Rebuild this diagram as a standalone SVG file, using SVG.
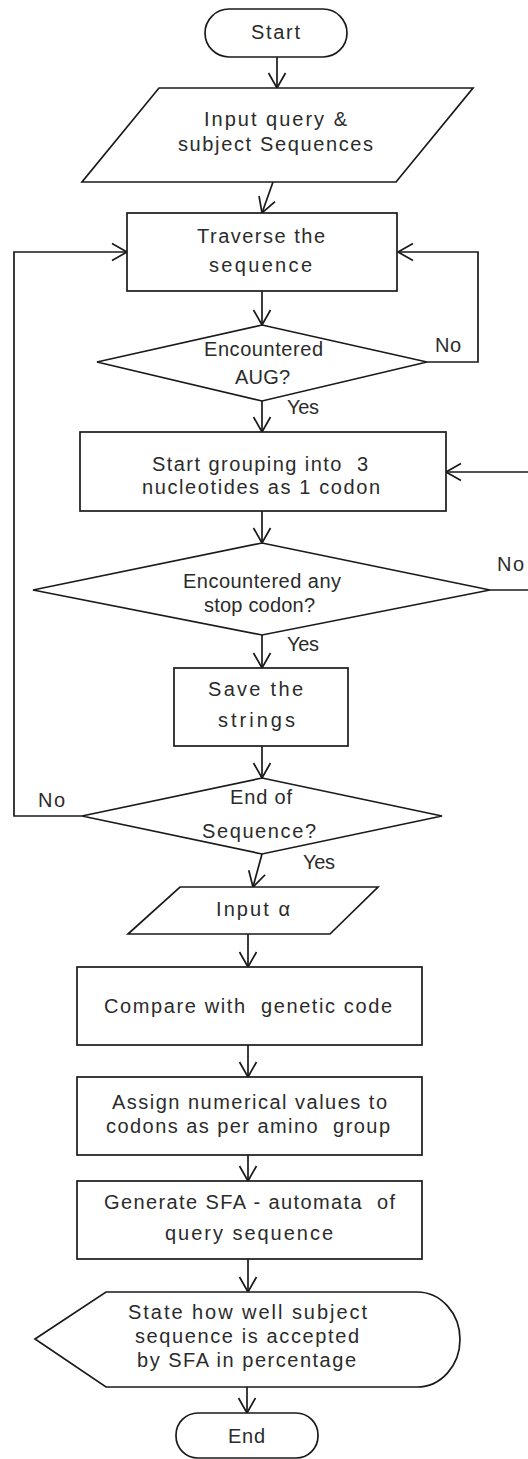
<svg xmlns="http://www.w3.org/2000/svg" width="528" height="1459" viewBox="0 0 528 1459">
<style>
.s{fill:#fff;stroke:#1a1a1a;stroke-width:1.7}
.c{fill:none;stroke:#1a1a1a;stroke-width:1.7}
text{font-family:"Liberation Sans","DejaVu Sans",sans-serif;font-size:20px;fill:#2b2b2b;white-space:pre}
</style>
<defs>
<marker id="ah" markerUnits="userSpaceOnUse" markerWidth="20" markerHeight="20" viewBox="-16 -10 18 20" refX="0" refY="0" orient="auto">
<path d="M-15,-8.5 L0,0 L-15,8.5" fill="none" stroke="#1a1a1a" stroke-width="1.7"/>
</marker>
</defs>
<rect width="528" height="1459" fill="#fff"/>
<g id="connectors" class="c" marker-end="url(#ah)">
<path d="M277,57 L277,88"/>
<path d="M273,182 L262,213"/>
<path d="M262,291 L262,325"/>
<path d="M427,362 L478,362 L478,252 L398,252"/>
<path d="M262,401 L262,432"/>
<path d="M528,472 L446,472"/>
<path d="M262,511 L262,543"/>
<path d="M490,590 L528,590" marker-end="none"/>
<path d="M262,635 L262,668"/>
<path d="M262,746 L262,778"/>
<path d="M82,816 L14,816 L14,252 L127,252"/>
<path d="M262,854 L253,887"/>
<path d="M248,934 L248,967"/>
<path d="M248,1045 L248,1077"/>
<path d="M248,1155 L248,1181"/>
<path d="M248,1259 L248,1292"/>
<path d="M247,1387 L247,1413"/>
</g>
<g id="labels">
<text x="435" y="352" textLength="26">No</text>
<text x="287" y="414" textLength="32">Yes</text>
<text x="497" y="571" textLength="27">No</text>
<text x="287" y="651" textLength="32">Yes</text>
<text x="38" y="807" textLength="27">No</text>
<text x="303" y="869" textLength="32">Yes</text>
</g>
<g id="start">
<rect class="s" x="205" y="9" width="142" height="48" rx="24"/>
<text x="251" y="39" textLength="49">Start</text>
</g>
<g id="input-seq">
<polygon class="s" points="159,88 473,88 396,182 82,182"/>
<text x="204" y="126" textLength="143">Input query &amp;</text>
<text x="178" y="151" textLength="195">subject Sequences</text>
</g>
<g id="traverse">
<rect class="s" x="127" y="213" width="270" height="78"/>
<text x="197" y="243" textLength="128">Traverse the</text>
<text x="209" y="272" textLength="103">sequence</text>
</g>
<g id="aug">
<polygon class="s" points="262,325 427,362 262,401 97,362"/>
<text x="204" y="356" textLength="119">Encountered</text>
<text x="235" y="384" textLength="55">AUG?</text>
</g>
<g id="grouping">
<rect class="s" x="80" y="432" width="366" height="79"/>
<text x="152" y="471" textLength="216">Start grouping into  3</text>
<text x="142" y="494" textLength="238">nucleotides as 1 codon</text>
</g>
<g id="stop">
<polygon class="s" points="262,543 490,590 262,635 33,590"/>
<text x="183" y="588" textLength="158">Encountered any</text>
<text x="204" y="612" textLength="111">stop codon?</text>
</g>
<g id="save">
<rect class="s" x="174" y="668" width="174" height="78"/>
<text x="208" y="696" textLength="95">Save the</text>
<text x="218" y="727" textLength="77">strings</text>
</g>
<g id="endseq">
<polygon class="s" points="262,778 442,816 262,854 82,816"/>
<text x="230" y="804" textLength="62">End of</text>
<text x="202" y="838" textLength="114">Sequence?</text>
</g>
<g id="input-alpha">
<polygon class="s" points="180,887 378,887 330,934 128,934"/>
<text x="216" y="916" textLength="74">Input α</text>
</g>
<g id="compare">
<rect class="s" x="77" y="967" width="345" height="78"/>
<text x="104" y="1013" textLength="288">Compare with  genetic code</text>
</g>
<g id="assign">
<rect class="s" x="77" y="1077" width="345" height="78"/>
<text x="112" y="1109" textLength="275">Assign numerical values to</text>
<text x="106" y="1133" textLength="284">codons as per amino  group</text>
</g>
<g id="generate">
<rect class="s" x="77" y="1181" width="345" height="78"/>
<text x="104" y="1209" textLength="291">Generate SFA - automata  of</text>
<text x="165" y="1240" textLength="168">query sequence</text>
</g>
<g id="state">
<path class="s" d="M35,1339 L106,1292 L417,1292 A43,47.5 0 0 1 417,1387 L106,1387 Z"/>
<text x="128" y="1319" textLength="239">State how well subject</text>
<text x="135" y="1343" textLength="224">sequence is accepted</text>
<text x="137" y="1367" textLength="219">by SFA in percentage</text>
</g>
<g id="end">
<rect class="s" x="176" y="1413" width="142" height="45" rx="22"/>
<text x="228" y="1443" textLength="37">End</text>
</g>
</svg>
